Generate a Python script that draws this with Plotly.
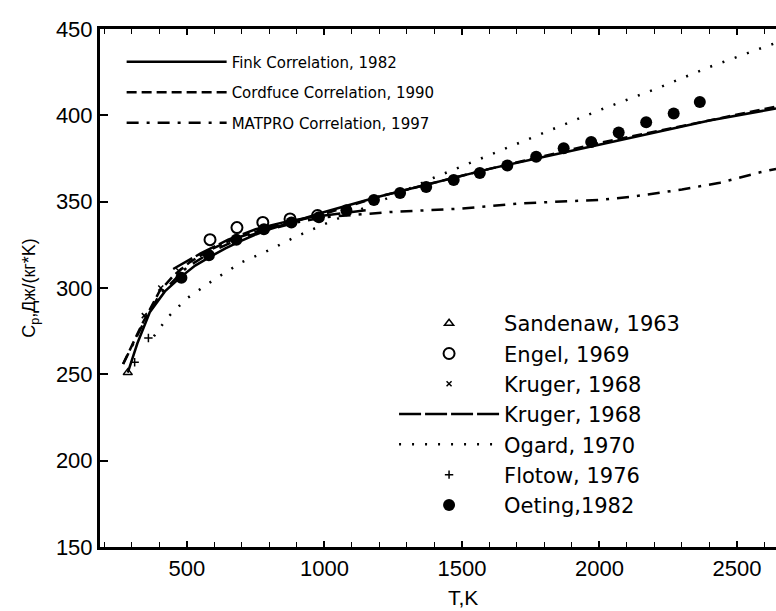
import plotly.graph_objects as go

# ---------------- data ----------------
fink_T = [285, 320, 365, 420, 475, 530, 584, 640, 693, 750, 800, 900, 1000, 1200, 1400, 1600, 1800, 2000, 2200, 2400, 2642]
fink_cp = [251, 268, 286, 298, 306, 313, 318, 323, 327, 331, 334, 339, 344, 353, 361, 369, 376, 383, 390, 397, 404]

cord_T = [268, 300, 340, 400, 450, 511, 584, 650, 700, 800, 900, 1000, 1200, 1600, 2000, 2642]
cord_cp = [256, 267, 280, 298, 307, 315, 322, 327, 330, 335, 339, 343, 353, 369, 384, 405]

matpro_T = [268, 300, 340, 400, 500, 600, 700, 800, 900, 1000, 1238, 1500, 1711, 2000, 2122, 2300, 2438, 2584, 2642]
matpro_cp = [256, 266, 279, 296, 312, 322, 329, 334, 338, 341, 344, 346, 349, 351, 353, 357, 361, 367, 369]

sand_T = [285]
sand_cp = [251]

engel_T = [584, 682, 776, 875, 975]
engel_cp = [328, 335, 338, 340, 342]

krug_pts_T = [345, 405, 470]
krug_pts_cp = [284, 300, 310]

krug_line_T = [450, 550, 650, 750, 850, 950, 1050, 1150]
krug_line_cp = [311, 320, 328, 334, 338, 341, 343, 345]

ogard_T = [380, 430, 500, 600, 700, 800, 900, 1000, 1200, 1400, 1600, 1800, 2000, 2200, 2400, 2642]
ogard_cp = [272, 283, 294, 305, 315, 322, 330, 337, 350, 364, 377, 390, 403, 415, 428, 442]

flotow_T = [310, 360]
flotow_cp = [257, 271]

oeting_T = [480, 580, 680, 780, 880, 980, 1080, 1180, 1275, 1370, 1470, 1565, 1665, 1770, 1870, 1970, 2070, 2170, 2270, 2365]
oeting_cp = [306, 319, 328, 334, 338, 341, 345, 351, 355, 358.5, 362.6, 366.6, 371, 376, 381, 384.6, 390, 396, 401, 407.7]

x_ticks = [500, 1000, 1500, 2000, 2500]
y_ticks = [150, 200, 250, 300, 350, 400, 450]

FONT = "Liberation Sans"

fig = go.Figure()

# correlations (top-left legend)
fig.add_trace(go.Scatter(x=fink_T, y=fink_cp, mode="lines", name="Fink Correlation, 1982",
                         line=dict(color="black", width=2.5), legend="legend", legendgroup="a1"))
fig.add_trace(go.Scatter(x=cord_T, y=cord_cp, mode="lines", name="Cordfuce Correlation, 1990",
                         line=dict(color="black", width=2.5, dash="10px,5px"), legend="legend", legendgroup="a2"))
fig.add_trace(go.Scatter(x=matpro_T, y=matpro_cp, mode="lines", name="MATPRO Correlation, 1997",
                         line=dict(color="black", width=2.5, dash="12px,8px,3px,8px"), legend="legend", legendgroup="a3"))

# experimental data (bottom-right legend)
fig.add_trace(go.Scatter(x=sand_T, y=sand_cp, mode="markers", name="Sandenaw, 1963",
                         marker=dict(symbol="triangle-up-open", size=8, color="black", line=dict(width=1.5)),
                         legend="legend2"))
fig.add_trace(go.Scatter(x=engel_T, y=engel_cp, mode="markers", name="Engel, 1969",
                         marker=dict(symbol="circle-open", size=11, color="black", line=dict(width=2)),
                         legend="legend2"))
fig.add_trace(go.Scatter(x=krug_pts_T, y=krug_pts_cp, mode="markers", name="Kruger, 1968",
                         marker=dict(symbol="x-thin-open", size=5, color="black", line=dict(width=1.5)),
                         legend="legend2"))
fig.add_trace(go.Scatter(x=krug_line_T, y=krug_line_cp, mode="lines", name="Kruger, 1968",
                         line=dict(color="black", width=2.5, dash="22px,4px"), legend="legend2"))
fig.add_trace(go.Scatter(x=ogard_T, y=ogard_cp, mode="lines", name="Ogard, 1970",
                         line=dict(color="black", width=2.5, dash="2px,11px"), legend="legend2"))
fig.add_trace(go.Scatter(x=flotow_T, y=flotow_cp, mode="markers", name="Flotow, 1976",
                         marker=dict(symbol="cross-thin-open", size=6, color="black", line=dict(width=1.5)),
                         legend="legend2"))
fig.add_trace(go.Scatter(x=oeting_T, y=oeting_cp, mode="markers", name="Oeting,1982",
                         marker=dict(symbol="circle", size=12, color="black"),
                         legend="legend2"))

fig.update_layout(
    width=776, height=611,
    margin=dict(l=100, r=0, t=29, b=64),
    paper_bgcolor="white", plot_bgcolor="white",
    font=dict(family=FONT, color="black", size=17),
    legend=dict(x=0.032, y=0.968, xanchor="left", yanchor="top", bgcolor="rgba(0,0,0,0)",
                itemwidth=100, font=dict(family="DejaVu Sans", size=15), tracegroupgap=8),
    legend2=dict(x=0.435, y=0.471, xanchor="left", yanchor="top", bgcolor="rgba(0,0,0,0)",
                 itemwidth=100, font=dict(family="DejaVu Sans", size=21)),
    xaxis=dict(range=[184, 2642], tickvals=x_ticks, showgrid=False, zeroline=False,
               showline=True, linecolor="black", linewidth=3, mirror="ticks",
               ticks="inside", ticklen=6, tickwidth=1.5, tickcolor="black",
               minor=dict(dtick=100, tick0=0, ticks="inside", ticklen=5, tickwidth=1.2, tickcolor="black"),
               tickfont=dict(size=22)),
    yaxis=dict(range=[150, 450], tickvals=y_ticks, showgrid=False, zeroline=False,
               showline=True, linecolor="black", linewidth=3,
               ticks="inside", ticklen=8, tickwidth=1.5, tickcolor="black",
               tickfont=dict(size=22), ticklabelstandoff=0,
               title=dict(text="C<sub>p</sub>,Дж/(кг*K)", font=dict(size=18), standoff=16)),
    annotations=[dict(text="T,K", xref="paper", yref="paper", x=0.537, y=-0.097,
                      xanchor="center", yanchor="middle", showarrow=False, font=dict(size=21))],
)

fig.write_html("out.html")
